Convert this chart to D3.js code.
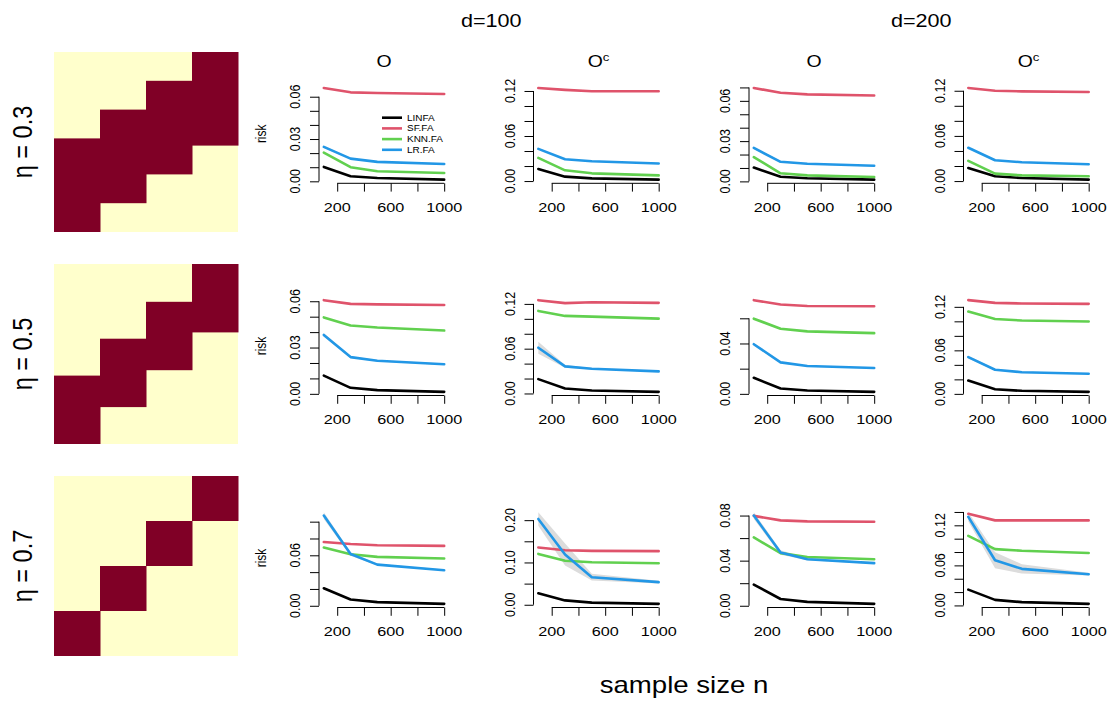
<!DOCTYPE html>
<html>
<head>
<meta charset="utf-8">
<script src="https://cdn.jsdelivr.net/npm/d3@7"></script>
<style>
  body { margin: 0; background: #fff; }
  svg { display: block; }
  text { font-family: "Liberation Sans", Arial, sans-serif; fill: #000; }
</style>
</head>
<body>
<div id="chart"></div>
<script>
// ---- data ----
const sampleSizes = [100, 300, 500, 1000];
const methods = ["LINFA", "SF.FA", "KNN.FA", "LR.FA"];
const methodColors = ["#000000", "#DF536B", "#61D04F", "#2297E6"];
const etaLabels = ["0.3", "0.5", "0.7"];
const dimLabels = ["d=100", "d=200"];
const regionLabels = ["O", "Oc"];
const xTicks = [200, 400, 600, 800, 1000];
const xTickLabels = [200, 600, 1000];

// panel order: for each eta row -> d=100 O, d=100 Oc, d=200 O, d=200 Oc
const linfaRisk = [
  [0.0102, 0.0036, 0.0024, 0.0012], [0.0161, 0.0059, 0.0036, 0.0019], [0.0103, 0.0035, 0.0023, 0.0013], [0.0174, 0.0063, 0.0040, 0.0019],
  [0.0118, 0.0039, 0.0024, 0.0013], [0.0192, 0.0067, 0.0040, 0.0022], [0.0128, 0.0042, 0.0026, 0.0016], [0.0184, 0.0064, 0.0042, 0.0028],
  [0.0208, 0.0074, 0.0043, 0.0023], [0.0271, 0.0103, 0.0051, 0.0022], [0.0188, 0.0060, 0.0034, 0.0017], [0.0237, 0.0083, 0.0049, 0.0024]
];
const sfRisk = [
  [0.0662, 0.0631, 0.0626, 0.0619], [0.1240, 0.1215, 0.1197, 0.1197], [0.0696, 0.0660, 0.0648, 0.0640], [0.1237, 0.1200, 0.1192, 0.1183],
  [0.0607, 0.0583, 0.0580, 0.0576], [0.1250, 0.1210, 0.1223, 0.1214], [0.0744, 0.0709, 0.0698, 0.0696], [0.1292, 0.1255, 0.1246, 0.1241],
  [0.0758, 0.0735, 0.0720, 0.0712], [0.1355, 0.1290, 0.1275, 0.1267], [0.0797, 0.0757, 0.0748, 0.0745], [0.1372, 0.1274, 0.1274, 0.1274]
];
const knnRisk = [
  [0.0204, 0.0100, 0.0071, 0.0059], [0.0308, 0.0143, 0.0103, 0.0076], [0.0181, 0.0060, 0.0045, 0.0033], [0.0268, 0.0099, 0.0076, 0.0063],
  [0.0495, 0.0443, 0.0430, 0.0410], [0.1106, 0.1039, 0.1030, 0.1003], [0.0597, 0.0517, 0.0496, 0.0482], [0.1136, 0.1033, 0.1011, 0.0997],
  [0.0692, 0.0612, 0.0581, 0.0562], [0.1202, 0.1040, 0.1004, 0.0982], [0.0606, 0.0467, 0.0433, 0.0413], [0.1041, 0.0844, 0.0819, 0.0785]
];
const lrRisk = [
  [0.0244, 0.0161, 0.0138, 0.0123], [0.0429, 0.0290, 0.0264, 0.0233], [0.0249, 0.0146, 0.0131, 0.0116], [0.0442, 0.0277, 0.0250, 0.0224],
  [0.0382, 0.0238, 0.0214, 0.0192], [0.0613, 0.0363, 0.0331, 0.0296], [0.0394, 0.0250, 0.0221, 0.0205], [0.0507, 0.0332, 0.0299, 0.0277],
  [0.1073, 0.0616, 0.0489, 0.0423], [0.2029, 0.1187, 0.0652, 0.0535], [0.0800, 0.0472, 0.0413, 0.0378], [0.1327, 0.0676, 0.0548, 0.0468]
];
// half width of the grey band around LR.FA
const lrBand = [
  [0.0008, 0.0005, 0.0005, 0.0005], [0.0010, 0.0006, 0.0005, 0.0005], [0.0008, 0.0005, 0.0005, 0.0005], [0.0010, 0.0006, 0.0005, 0.0005],
  [0.0010, 0.0006, 0.0005, 0.0005], [0.0080, 0.0020, 0.0010, 0.0008], [0.0010, 0.0006, 0.0005, 0.0005], [0.0020, 0.0010, 0.0008, 0.0006],
  [0.0040, 0.0020, 0.0010, 0.0008], [0.0160, 0.0260, 0.0080, 0.0030], [0.0030, 0.0020, 0.0010, 0.0008], [0.0070, 0.0120, 0.0070, 0.0020]
];
const yTickStep = [0.01, 0.02, 0.01, 0.02, 0.01, 0.02, 0.02, 0.02, 0.02, 0.05, 0.02, 0.02];
const yTickLabels = [
  [0, 0.03, 0.06], [0, 0.06, 0.12], [0, 0.03, 0.06], [0, 0.06, 0.12],
  [0, 0.03, 0.06], [0, 0.06, 0.12], [0, 0.04], [0, 0.06, 0.12],
  [0, 0.06], [0, 0.10, 0.20], [0, 0.04, 0.08], [0, 0.06, 0.12]
];
// loading pattern: [from, to] of each factor, fraction of variables counted from bottom
const loadBlocks = [
  [[0, 0.52], [0.16, 0.68], [0.32, 0.84], [0.48, 1]],
  [[0, 0.38], [0.205, 0.585], [0.41, 0.79], [0.62, 1]],
  [[0, 0.25], [0.25, 0.5], [0.5, 0.75], [0.75, 1]]
];

// ---- layout ----
const W = 1111, H = 706;
const SX = 1.2;              // text in the reference is stretched horizontally
const plotX = [319, 533.5, 749, 963.5], plotW = 130;
const plotBottom = [183.3, 395.5, 607.5], plotH = 99;
const heatX = 54, heatW = 184, heatTop = [52, 264, 476], heatH = 180;
const fmt = d3.format(".2f");

const svg = d3.select("#chart").append("svg")
  .attr("width", W).attr("height", H);

function label(g, x, y, s, size, anchor, rot) {
  return g.append("text")
    .attr("transform", `translate(${x},${y}) scale(${SX},1)` + (rot ? ` rotate(${rot})` : ""))
    .attr("text-anchor", anchor || "middle")
    .attr("font-size", size)
    .text(s);
}

// column headers
dimLabels.forEach(function(t, j) {
  const cx = (plotX[2 * j] + plotX[2 * j + 1] + plotW) / 2;
  label(svg, cx, 27, t, 18);
});

// heatmaps of loading pattern
loadBlocks.forEach(function(blocks, r) {
  const g = svg.append("g");
  const xh = d3.scaleBand().domain(d3.range(blocks.length)).range([heatX, heatX + heatW]);
  const yh = d3.scaleLinear().domain([0, 1]).range([heatTop[r] + heatH, heatTop[r]]);
  g.append("rect").attr("x", heatX).attr("y", heatTop[r])
    .attr("width", heatW).attr("height", heatH).attr("fill", "#FFFFCC");
  g.selectAll("rect.blk").data(blocks).enter().append("rect")
    .attr("class", "blk")
    .attr("x", function(d, i) { return xh(i); })
    .attr("width", xh.bandwidth() + 0.5)
    .attr("y", function(d) { return yh(d[1]); })
    .attr("height", function(d) { return yh(d[0]) - yh(d[1]); })
    .attr("fill", "#800026");
  // eta label
  const t = label(svg, 31.5, heatTop[r] + heatH / 2, "", 23.5, "middle", -90);
  t.attr("xml:space", "preserve").text("\u03B7 = " + etaLabels[r]);
});

// risk panels
const allSeries = [linfaRisk, sfRisk, knnRisk, lrRisk];
for (let r = 0; r < 3; r++) {
  for (let c = 0; c < 4; c++) {
    const p = r * 4 + c;
    const x0 = plotX[c], y1 = plotBottom[r], y0 = y1 - plotH;
    const g = svg.append("g");

    const lo = d3.min(allSeries, function(s, k) {
      return d3.min(s[p], function(v, i) { return k === 3 ? v - lrBand[p][i] : v; });
    });
    const hi = d3.max(allSeries, function(s, k) {
      return d3.max(s[p], function(v, i) { return k === 3 ? v + lrBand[p][i] : v; });
    });
    const pad = (hi - lo) * 0.04;
    const y = d3.scaleLinear().domain([lo - pad, hi + pad]).range([y1, y0]);
    const xpad = (1000 - 100) * 0.04;
    const x = d3.scaleLinear().domain([100 - xpad, 1000 + xpad]).range([x0, x0 + plotW]);

    // grey band around LR.FA
    g.append("path")
      .datum(sampleSizes.map(function(n, i) { return [n, lrRisk[p][i] - lrBand[p][i], lrRisk[p][i] + lrBand[p][i]]; }))
      .attr("fill", "#dcdcdc")
      .attr("d", d3.area()
        .x(function(d) { return x(d[0]); })
        .y0(function(d) { return y(d[1]); })
        .y1(function(d) { return y(d[2]); }));

    // lines
    allSeries.forEach(function(s, k) {
      g.append("path")
        .datum(sampleSizes.map(function(n, i) { return [n, s[p][i]]; }))
        .attr("fill", "none")
        .attr("stroke", methodColors[k])
        .attr("stroke-width", 2.6)
        .attr("stroke-linejoin", "round")
        .attr("stroke-linecap", "round")
        .attr("d", d3.line()
          .x(function(d) { return x(d[0]); })
          .y(function(d) { return y(d[1]); }));
    });

    // x axis (R style: line from first to last tick)
    const xa = g.append("g").attr("transform", `translate(0,${y1})`)
      .call(d3.axisBottom(x).tickValues(xTicks).tickSize(8.3).tickSizeOuter(0).tickFormat(""));
    xa.select(".domain").remove();
    xa.append("line").attr("x1", x(xTicks[0])).attr("x2", x(xTicks[xTicks.length - 1]))
      .attr("stroke", "#000");
    xTickLabels.forEach(function(v) { label(g, x(v), y1 + 28.4, v, 13.5); });

    // y axis
    const step = yTickStep[p];
    const yTicks = d3.range(0, y.domain()[1] + 1e-9, step).map(function(v) { return +v.toFixed(4); });
    const ya = g.append("g").attr("transform", `translate(${x0},0)`)
      .call(d3.axisLeft(y).tickValues(yTicks).tickSize(9).tickSizeOuter(0).tickFormat(""));
    ya.select(".domain").remove();
    ya.append("line").attr("y1", y(yTicks[0])).attr("y2", y(yTicks[yTicks.length - 1]))
      .attr("stroke", "#000");
    yTickLabels[p].forEach(function(v) { label(g, x0 - 19, y(v), fmt(v), 12.5, "middle", -90); });

    // panel title
    if (r === 0) {
      const tt = g.append("text")
        .attr("transform", `translate(${x0 + plotW / 2},66.7) scale(${SX},1)`)
        .attr("text-anchor", "middle").attr("font-size", 16.2);
      tt.append("tspan").text("O");
      if (regionLabels[c % 2] === "Oc") {
        tt.append("tspan").attr("dy", -6).attr("font-size", 11).text("c");
      }
    }
    if (c === 0) label(g, 266, (y0 + y1) / 2, "risk", 12, "middle", -90);

    // legend in first panel
    if (p === 0) {
      const lg = g.append("g");
      methods.forEach(function(m, k) {
        const ly = 117.7 + k * 10.7;
        lg.append("line").attr("x1", 382).attr("x2", 402).attr("y1", ly).attr("y2", ly)
          .attr("stroke", methodColors[k]).attr("stroke-width", 2.6);
        label(lg, 407, ly + 3, m, 8.3, "start");
      });
    }
  }
}

label(svg, 684, 693, "sample size n", 23);
</script>
</body>
</html>
